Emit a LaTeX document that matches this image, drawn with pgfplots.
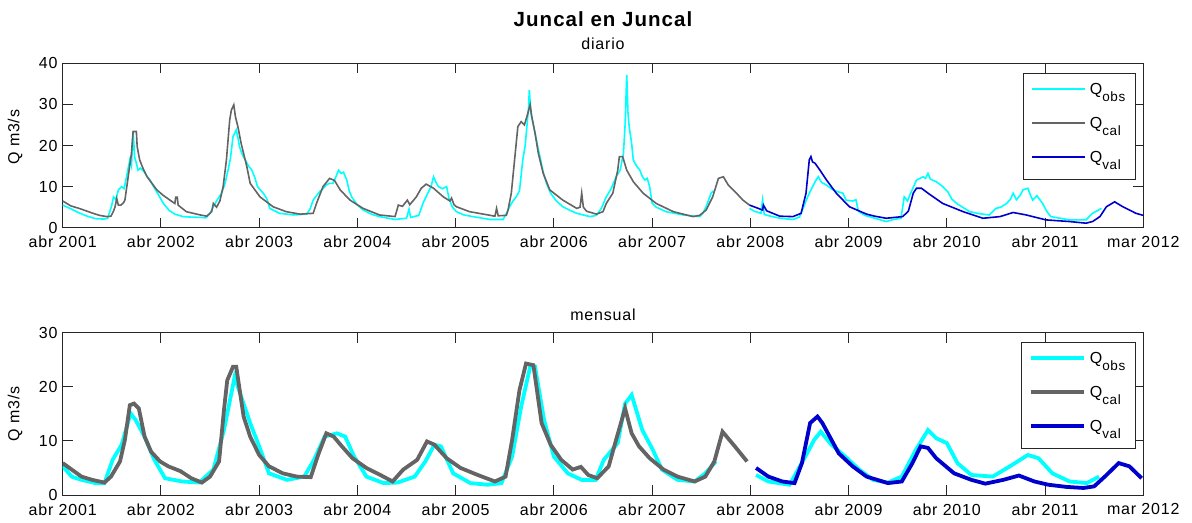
\documentclass[border=0pt]{standalone}
\usepackage{fontspec}
\setmainfont{Liberation Sans}[LetterSpace=5]
\usepackage{pgfplots}
\pgfplotsset{compat=1.18}

\definecolor{qobs}{RGB}{0,255,255}
\definecolor{qcal}{RGB}{100,100,100}
\definecolor{qval}{RGB}{0,0,204}
\definecolor{axgray}{RGB}{38,38,38}

\newcommand{\sub}[1]{\raisebox{-7bp}{\fontsize{13.5bp}{14bp}\selectfont #1}}

\pgfplotsset{
  juncal/.style={
    scale only axis, width=1080.6bp,
    xmin=0, xmax=132, ymin=0,
    clip mode=individual,
    xtick={0,12,24,36,48,60,72,84,96,108,120,132},
    xticklabels={abr 2001,abr 2002,abr 2003,abr 2004,abr 2005,abr 2006,abr 2007,abr 2008,abr 2009,abr 2010,abr 2011,mar 2012},
    tick align=inside, major tick length=10bp,
    axis line style={axgray, line width=1bp},
    every tick/.style={axgray, line width=1bp},
    unbounded coords=jump,
    ylabel={Q m3/s},
    legend cell align=left,
    legend style={anchor=north east, draw=axgray, line width=1bp, fill=white,
      inner xsep=8bp, inner ysep=7bp, row sep=10bp, column sep=2bp,
      nodes={inner sep=2bp, text height=12bp, text depth=8bp}},
    legend image code/.code={\draw[##1] (0bp,3bp) -- (53bp,3bp);},
    x tick label style={yshift=-3bp},
    y tick label style={inner sep=2bp, xshift=-3bp},
  }
}

\begin{document}
\fontsize{16bp}{19bp}\selectfont
\begin{tikzpicture}
\path[use as bounding box] (0bp,0bp) rectangle (1192bp,-523bp);

%% daily
\begin{axis}[juncal, at={(62.7bp,-227.7bp)}, anchor=south west,
  height=164.4bp, ymax=40, ytick={0,10,20,30,40}, yticklabels={0,10,20,30,40},
  ylabel style={at={(axis description cs:-0.0441,0.55)}, anchor=center},
  legend style={at={(axis description cs:0.9932,0.943)}}]
\addplot[qobs, line width=1.6bp] coordinates {
(0,5.5)(1,4.6)(2,3.6)(3,2.8)(4,2.2)(5,2.1)(5.5,2.3)(6,5.5)(6.2,7.5)(6.5,6.8)(6.8,9.2)(7.2,10)(7.5,9.5)(7.8,12.4)(8.2,16.5)(8.4,15)(8.6,23.4)(8.8,17)(9.0,15.7)(9.2,14)(9.5,14.5)(10,13.5)(10.3,12.5)(10.6,11.8)(11.1,10)(11.7,8)(12.3,5.9)(13,4.2)(13.7,3.3)(14.7,2.7)(15.5,2.6)(16.8,2.5)(17.5,2.4)(18,3.5)(18.4,5.1)(18.8,6.5)(19.4,8.4)(19.8,10.5)(20.2,14)(20.5,17)(20.8,22.1)(21.2,23.8)(21.4,22)(21.6,19.7)(22,17.5)(22.3,16.5)(22.7,15)(23.1,14)(23.5,12)(23.8,10)(24.5,8.4)(24.8,7.5)(25,6.7)(25.3,4.7)(26.5,3.5)(28.2,3.1)(29.8,3.3)(30.2,4.5)(30.6,6.7)(31,7.8)(31.4,8.8)(31.8,9.5)(32.2,10.4)(32.6,10.8)(33.0,10.8)(33.4,12.5)(33.7,14)(34.0,13.2)(34.3,13.5)(34.7,11.6)(35,9)(35.3,7.5)(36,5.5)(36.7,4.3)(37.7,3.3)(38.7,2.7)(40.6,2.0)(41.5,2.2)(42,2.3)(42.3,4.5)(42.5,2.5)(43.5,3)(44,5.9)(44.6,8.4)(45,10)(45.3,12.4)(45.6,11)(45.9,10)(46.4,9.5)(46.9,10)(47.2,7)(47.6,5)(48.1,3.9)(49,3.1)(50.1,2.7)(52.2,2.0)(53.8,2.0)(54.2,3.5)(54.6,5.1)(55,6.5)(55.4,7.5)(55.8,9)(56.2,16.5)(56.5,20)(56.7,24.6)(56.9,29)(57.0,33.5)(57.2,27.8)(57.4,26)(57.7,23)(58,20)(58.3,17.3)(58.7,13.5)(59.1,10.8)(59.6,8.4)(60.3,6.5)(61.1,5.1)(62,4.2)(62.8,3.5)(64.4,2.7)(65.2,3)(65.8,4.7)(66.4,7.5)(67,9.5)(67.6,12.4)(68.1,14)(68.5,18.1)(68.7,25)(68.9,37.2)(69.05,28)(69.2,24.6)(69.5,20.5)(69.7,16.5)(70.1,15)(70.5,14)(70.8,12.5)(71.1,11.6)(71.4,12)(71.7,10)(72,6)(72.5,5)(73.7,3.9)(75.8,3.1)(77.8,2.7)(78.2,3.5)(78.6,5.1)(79.2,8.4)(79.5,9)(79.6,nan)
(83.9,4.7)(84.5,4)(85.3,3.5)(85.5,6.7)(85.7,3.2)(86.5,2.8)(87.6,2.3)(89.2,2.0)(90,2.6)(90.4,4.5)(91,7.5)(91.6,10)(92,11.5)(92.3,12.4)(92.7,11)(93.2,10.5)(94.1,9.2)(94.6,8.8)(95.3,8.4)(95.7,6.7)(96.5,6.5)(96.9,6.8)(97.2,4)(98,3)(99.2,2.3)(100.6,1.5)(101.5,2)(102.4,2.3)(102.8,7.5)(103.2,6.5)(103.6,8.5)(104.3,11.6)(105.1,12.4)(105.4,12)(105.7,13.2)(106,11.8)(106.7,11.2)(107.5,10)(108.1,8.8)(108.6,7)(109.2,5.9)(110.8,3.9)(112,3.4)(113.2,3.1)(114,4.7)(114.6,5)(115.3,5.9)(115.8,7)(116.1,8.4)(116.5,6.8)(117,8)(117.3,9.2)(117.9,9.6)(118.2,8)(118.5,6.7)(119,7.8)(119.7,5.9)(120.2,4)(120.7,2.7)(123,1.9)(125,1.9)(125.8,3.5)(126.9,4.7)
};
\addlegendentry{Q\sub{obs}}
\addplot[qcal, line width=1.6bp] coordinates {
(0,6.5)(1,5.3)(2,4.7)(3,4)(3.7,3.5)(4.5,3)(5.4,2.7)(5.9,2.8)(6.2,4)(6.4,5.1)(6.6,7.1)(6.8,5.5)(7.1,5.5)(7.4,6)(7.6,6.7)(8.0,12.4)(8.4,18.1)(8.6,23.4)(9.0,23.4)(9.1,19.7)(9.4,16.5)(9.8,14.5)(10.3,12.4)(11.5,9.2)(12.2,8)(13.1,6.7)(13.7,5.9)(13.8,7.4)(14.0,7.4)(14.1,5.5)(15.1,3.9)(16.8,3.1)(17.6,2.8)(18.2,3.9)(18.4,5.9)(18.8,5)(19.2,6.5)(19.6,10)(20,16.5)(20.4,26.2)(20.6,28.6)(20.9,29.9)(21.1,27)(21.4,24.6)(21.8,20.5)(22.5,14.8)(22.9,10.8)(24.1,7.5)(25.7,5.1)(27.3,3.9)(29,3.3)(30.6,3.5)(31,5.9)(31.8,10)(32.6,12)(33.2,11.5)(33.9,9.2)(35.1,6.7)(36.7,4.7)(38.7,3.1)(40.6,2.7)(41,5.5)(41.5,5.2)(42.1,6.7)(42.4,5.6)(43.2,7.5)(43.8,9.6)(44.4,10.6)(45.3,9.6)(46.5,7.5)(47.3,6.5)(47.5,7.2)(47.8,5.6)(48.1,5.1)(49.7,3.9)(51.4,3.3)(52.8,2.8)(53,4.7)(53.2,2.9)(54.2,3.0)(54.4,4.3)(54.8,8.4)(55.2,16.5)(55.6,24.6)(56,25.8)(56.4,25)(56.7,27)(57.1,29.9)(57.3,27)(57.7,23)(58.1,18.1)(58.7,13.2)(59.5,9.2)(61.1,6.7)(62.8,4.7)(63.2,5)(63.4,8.4)(63.6,5)(64,4)(65.2,3.3)(66,3.9)(66.4,5.9)(67.2,8.4)(67.8,14)(68.0,17.3)(68.4,17.3)(68.9,14)(69.7,11.2)(70.9,8.4)(72.5,5.9)(74.6,3.9)(77,2.7)(77.8,3.0)(78.6,4.3)(79.4,7.5)(80.1,12)(80.7,12.4)(81.3,10.4)(82.3,8.4)(83.1,6.7)(83.9,5.5)
};
\addlegendentry{Q\sub{cal}}
\addplot[qval, line width=1.6bp] coordinates {
(83.9,5.5)(85.5,4.3)(85.6,5.5)(86,4.1)(87.6,2.8)(89.2,2.7)(90.2,3.5)(90.8,8.4)(91.2,16.5)(91.4,17.3)(91.6,16)(91.9,15.7)(92.5,14)(93.3,11.6)(94.5,8.4)(96.1,5.1)(98.2,3.3)(99.2,2.8)(100.6,2.3)(102.6,2.7)(103.3,4)(103.9,8.4)(104.3,9.6)(104.9,9.6)(105.7,8.4)(107.5,5.9)(110,3.9)(112.4,2.3)(114.5,2.7)(116.1,3.7)(117.7,3.1)(120.1,1.9)(123,1.5)(125,1.1)(125.8,1.5)(126.7,2.7)(127.5,5.1)(128.5,6.3)(129.5,5.1)(131.1,3.5)(132,3.0)
};
\addlegendentry{Q\sub{val}}
\node[font=\bfseries\fontsize{20.5bp}{24bp}\selectfont, anchor=base] at (axis description cs:0.5,1.2269) {Juncal en Juncal};
\node[anchor=base] at (axis description cs:0.5,1.081) {diario};
\end{axis}

%% monthly
\begin{axis}[juncal, at={(62.7bp,-495bp)}, anchor=south west,
  height=162.3bp, ymax=30, ytick={0,10,20,30}, yticklabels={0,10,20,30},
  ylabel style={at={(axis description cs:-0.0441,0.5)}, anchor=center},
  legend style={at={(axis description cs:0.9932,0.9445)}}]
\addplot[qobs, line width=3.8bp] coordinates {
(0,5.3)(1.1,3.4)(2.3,2.8)(4,2.2)(5.1,2.2)(6.1,6.5)(7.2,9.3)(8.3,15.1)(8.9,13.9)(10,10.8)(11.2,6.5)(12.5,3.1)(14.6,2.5)(16.7,2.3)(18.4,4.7)(19.7,12)(21,21.8)(21.8,18.2)(22.9,13.3)(24,9)(25.2,4.0)(27.4,2.8)(29.5,3.4)(30.7,6.5)(32,10.8)(33.5,11.4)(34.5,10.8)(35.6,7.1)(37.1,3.4)(39.2,2.2)(40.9,2.3)(43,3.4)(44.3,6.2)(45.4,9.3)(46.2,9)(47.7,4)(49.8,2.2)(51.9,1.9)(53.6,2.2)(54.9,7.1)(56,16.3)(57.1,23.7)(57.7,23.7)(58.8,13.9)(60,7.1)(61.7,4)(63.4,2.8)(65.1,2.8)(66.1,6.5)(67.8,9.6)(68.7,16.9)(69.5,18.5)(70.8,12)(72.1,8.3)(73.2,4.7)(75.1,2.8)(77.2,2.5)(78.5,4)(79.8,6.2)(80,nan)
(84.7,3.7)(86.2,2.5)(88.8,1.9)(90.5,6.5)(91.8,10.2)(92.6,11.7)(93.9,9.3)(95.6,7.1)(97.3,4.7)(99,2.8)(100.8,2.3)(102.5,3.4)(104.2,8.3)(105.7,12)(106.7,10.5)(108,9.6)(109.3,5.9)(111,3.7)(113.6,3.4)(115.7,5.3)(117.9,7.4)(119.2,6.8)(120.9,4)(123,2.5)(125.1,2.2)(126.6,3.4)
};
\addlegendentry{Q\sub{obs}}
\addplot[qcal, line width=3.8bp] coordinates {
(0,5.9)(1.1,4.7)(2.3,3.4)(3.6,2.8)(5.1,2.3)(5.9,3.4)(7,6.2)(7.6,10.2)(8.2,16.6)(8.7,16.9)(9.3,16)(10,10.8)(10.8,8)(11.9,6.2)(12.9,5.3)(14.4,4.4)(15.7,3.1)(17,2.3)(18,3.4)(19.1,6.2)(19.7,15.7)(20.1,21.2)(20.8,23.7)(21.2,23.7)(22.1,14.5)(22.9,10.8)(24,7.4)(25.2,5.3)(26.9,4)(28.6,3.4)(30.3,3.3)(31.2,7.4)(32.2,11.4)(33.1,10.8)(34.1,9)(35.4,6.8)(37.1,5)(38.8,3.7)(40.3,2.5)(41.6,4.7)(43.3,6.5)(44.5,9.9)(45.4,9.3)(46.9,6.8)(48.6,5)(50.7,3.7)(52.8,2.5)(54.1,3.4)(54.9,10.2)(55.8,19.4)(56.6,24.3)(57.5,24)(58.5,13.3)(59.6,9.3)(60.9,6.5)(62.3,4.7)(63.3,5.2)(64.2,3.7)(65.3,3.1)(66.7,5.3)(67.6,10.2)(68.7,16)(69.5,11.4)(70.4,9)(71.7,6.8)(73.4,4.7)(75.1,3.4)(77.2,2.5)(78.5,3.4)(79.6,6.2)(80.6,11.7)(82.1,9)(83.6,6.2)
};
\addlegendentry{Q\sub{cal}}
\addplot[qval, line width=3.8bp] coordinates {
(84.7,5)(86.2,3.4)(87.9,2.5)(89.4,2.2)(90.3,5.9)(91.3,13.3)(92.2,14.5)(92.8,13.3)(94.8,7.7)(96.5,5.3)(98.2,3.4)(100.8,2.2)(102.5,2.5)(103.8,5.9)(104.8,9)(105.7,8.7)(106.7,6.8)(108.9,4)(111,2.8)(112.7,2.1)(114.9,2.8)(116.8,3.6)(118.7,2.5)(120.4,1.9)(122.6,1.5)(124.7,1.3)(126,1.6)(127.3,3.4)(129,5.9)(130.3,5.3)(131.8,3.1)
};
\addlegendentry{Q\sub{val}}
\node[anchor=base] at (axis description cs:0.5,1.078) {mensual};
\end{axis}
\end{tikzpicture}
\end{document}
